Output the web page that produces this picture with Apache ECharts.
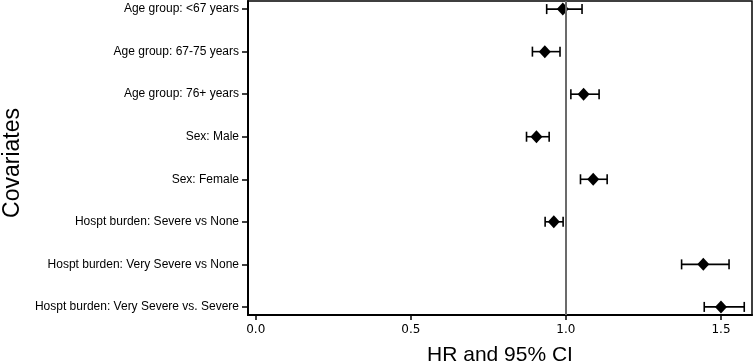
<!DOCTYPE html>
<html>
<head>
<meta charset="utf-8">
<script src="https://cdn.jsdelivr.net/npm/echarts@6/dist/echarts.min.js"></script>
<style>
  html, body { margin: 0; padding: 0; background: #fff; }
  #chart { width: 754px; height: 364px; }
</style>
</head>
<body>
<div id="chart"></div>
<script>
// 森林图：各协变量的 HR 及 95% CI

const covariates = [
  'Age group: <67 years',
  'Age group: 67-75 years',
  'Age group: 76+ years',
  'Sex: Male',
  'Sex: Female',
  'Hospt burden: Severe vs None',
  'Hospt burden: Very Severe vs None',
  'Hospt burden: Very Severe vs. Severe'
]
const hr = [0.99, 0.932, 1.057, 0.905, 1.088, 0.961, 1.443, 1.5]
const ciLow = [0.938, 0.892, 1.016, 0.873, 1.047, 0.933, 1.373, 1.446]
const ciHigh = [1.052, 0.981, 1.107, 0.946, 1.133, 0.991, 1.526, 1.575]
const xTicks = [0, 0.5, 1, 1.5]

const chart = echarts.init(document.getElementById('chart'))

const rows = covariates.map((_, i) => i)

chart.setOption({
  animation: false,
  backgroundColor: '#fff',
  grid: {
    left: 248, right: 2, top: 1, bottom: 49,
    outerBoundsMode: 'none',
    containLabel: false,
    show: true, borderColor: '#000', borderWidth: 1.5
  },
  xAxis: {
    type: 'value',
    min: -0.025,
    max: 1.6,
    name: 'HR and 95% CI',
    nameLocation: 'middle',
    nameGap: 30,
    nameTextStyle: { fontFamily: 'Liberation Sans', fontSize: 21, color: '#000' },
    axisLine: { show: true, onZero: false, lineStyle: { color: '#000', width: 2 } },
    axisTick: { show: true, customValues: xTicks, length: 5, lineStyle: { color: '#000', width: 1.5 } },
    axisLabel: {
      customValues: xTicks,
      formatter: (v) => v.toFixed(1),
      fontFamily: 'DejaVu Sans', fontSize: 12, color: '#000', margin: 9
    },
    splitLine: { show: false }
  },
  yAxis: {
    type: 'value',
    inverse: true,
    min: -0.19,
    max: 7.19,
    name: 'Covariates',
    nameLocation: 'middle',
    nameGap: 222,
    nameRotate: 90,
    nameTextStyle: {
      fontFamily: 'Liberation Sans', fontSize: 23, color: '#000',
      padding: [0, 10, 0, 0]
    },
    axisLine: { show: true, onZero: false, lineStyle: { color: '#000', width: 2 } },
    axisTick: { show: true, customValues: rows, length: 6, lineStyle: { color: '#000', width: 1.5 } },
    axisLabel: {
      customValues: rows,
      formatter: (v) => covariates[v],
      fontFamily: 'Liberation Sans', fontSize: 12, color: '#000', margin: 9
    },
    splitLine: { show: false }
  },
  series: [
    {
      type: 'custom',
      data: rows.map((i) => [ciLow[i], ciHigh[i], i]),
      renderItem: (params, api) => {
        const a = api.coord([api.value(0), api.value(2)])
        const b = api.coord([api.value(1), api.value(2)])
        const h = 5
        const style = { stroke: '#000', lineWidth: 1.6 }
        return {
          type: 'group',
          children: [
            { type: 'line', shape: { x1: a[0], y1: a[1], x2: b[0], y2: b[1] }, style },
            { type: 'line', shape: { x1: a[0], y1: a[1] - h, x2: a[0], y2: a[1] + h }, style },
            { type: 'line', shape: { x1: b[0], y1: b[1] - h, x2: b[0], y2: b[1] + h }, style }
          ]
        }
      },
      z: 3
    },
    {
      type: 'scatter',
      data: rows.map((i) => [hr[i], i]),
      symbol: 'diamond',
      symbolSize: [12, 13],
      itemStyle: { color: '#000', opacity: 1 },
      z: 4,
      markLine: {
        silent: true,
        symbol: 'none',
        label: { show: false },
        lineStyle: { color: '#6b6b6b', width: 2, type: 'solid' },
        data: [{ xAxis: 1 }]
      }
    }
  ]
})
</script>
</body>
</html>
